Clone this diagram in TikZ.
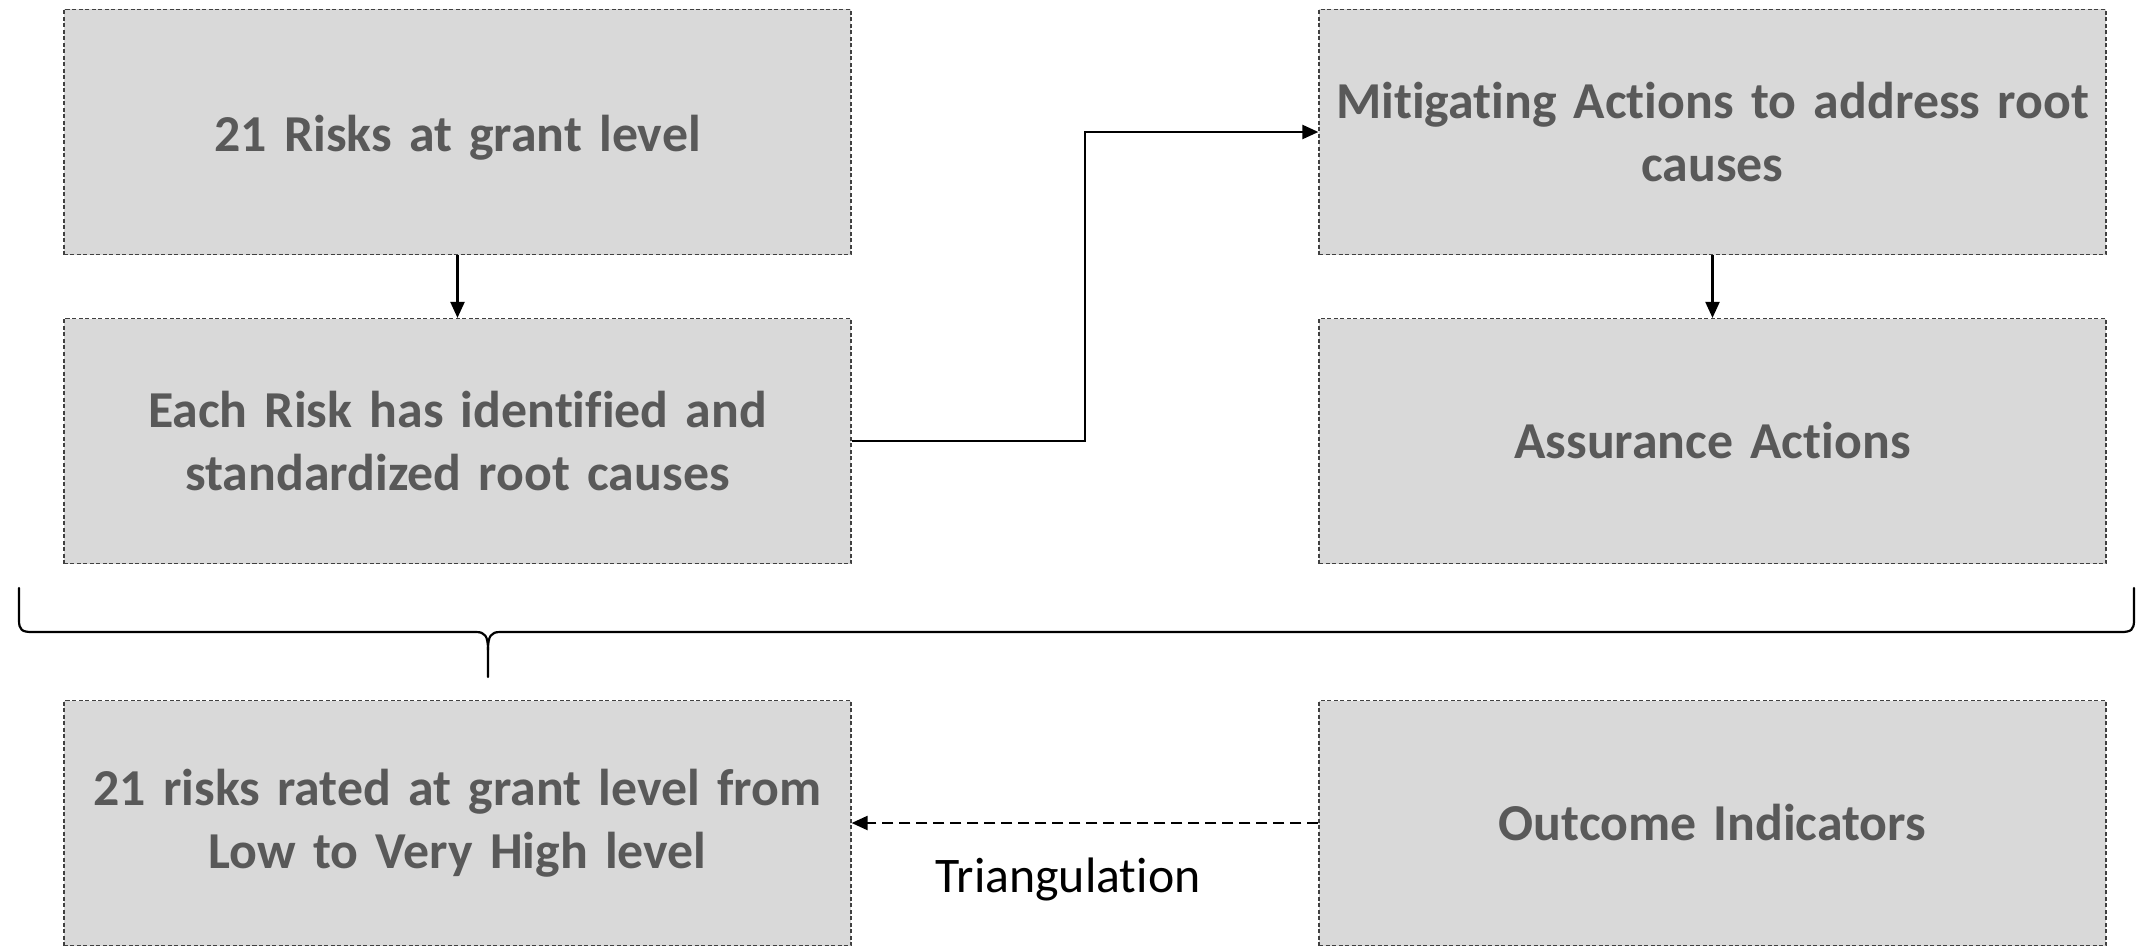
\documentclass[tikz,border=0pt]{standalone}
\usepackage{fontspec}
\setmainfont[Ligatures=NoCommon]{Carlito}
\usetikzlibrary{arrows.meta}
\definecolor{boxfill}{HTML}{D9D9D9}
\definecolor{boxtext}{HTML}{595959}
\begin{document}
\begin{tikzpicture}[x=1bp,y=-1bp,
  stepbox/.style={draw=black!75, line width=1.2bp, dash pattern=on 4bp off 2.5bp, fill=boxfill,
    minimum width=787bp, minimum height=245bp, text width=780bp, align=center,
    inner sep=0pt, font=\fontsize{52}{63}\selectfont\bfseries, text=boxtext},
  conn/.style={line width=2.2bp, -{Triangle[length=16bp,width=14bp]}},
  dconn/.style={line width=2.2bp, dash pattern=on 11bp off 6bp, -{Triangle[length=16bp,width=14bp]}},
  bracepath/.style={line width=2.2bp, line cap=round, line join=round}]
\useasboundingbox (0,0) rectangle (2139,951);
\node[stepbox] (b1) at (457.5,132) {\rule{0pt}{48bp}21 Risks at grant level};
\node[stepbox] (b2) at (457.5,441) {Each Risk has identified and\\standardized root causes};
\node[stepbox] (b3) at (1712.5,132) {Mitigating Actions to address root\\causes};
\node[stepbox] (b4) at (1712.5,441) {Assurance Actions};
\node[stepbox] (b5) at (457.5,823) {21 risks rated at grant level from\\Low to Very High level};
\node[stepbox] (b6) at (1712.5,823) {Outcome Indicators};
\draw[conn] (b1) -- (b2);
\draw[conn] (b3) -- (b4);
\draw[conn] (b2.east) -- (1085,441) -- (1085,132) -- (b3.west);
\draw[dconn] (b6.west) -- (b5.east);
\node[font=\fontsize{50}{60}\selectfont, text=black] (tri) at (1068,879) {Triangulation};
\coordinate (bl) at (19,588);
\coordinate (br) at (2134,588);
\coordinate (bt) at (488,677);
\draw[bracepath] (bl) -- (19,620) .. controls (19,630) and (22,632) .. (32,632) -- (476,632) .. controls (485,632) and (488,636) .. (488,650) -- (bt);
\draw[bracepath] (br) -- (2134,620) .. controls (2134,630) and (2131,632) .. (2121,632) -- (500,632) .. controls (491,632) and (488,636) .. (488,650);
\end{tikzpicture}
\end{document}
